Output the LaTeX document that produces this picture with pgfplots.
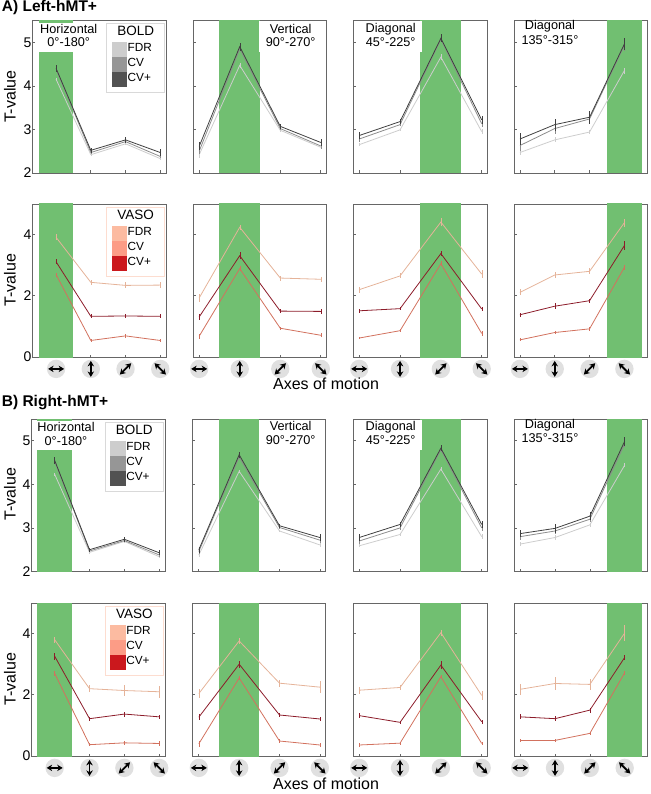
\documentclass[border=0pt]{standalone}
\usepackage{fontspec}
\setmainfont{Liberation Sans}
\usepackage{pgfplots}
\usepackage{pgfplotstable}
\pgfplotsset{compat=1.18}
\usetikzlibrary{arrows.meta,calc}

\definecolor{mygreen}{HTML}{71BF71}
\definecolor{spine}{HTML}{666666}
\definecolor{iconbg}{HTML}{E0E0E0}
% line colours
\definecolor{bolda}{HTML}{CDCDCD}
\definecolor{boldb}{HTML}{8C8C8C}
\definecolor{boldc}{HTML}{404040}
\definecolor{vasoa}{HTML}{E5B399}
\definecolor{vasob}{HTML}{D2715E}
\definecolor{vasoc}{HTML}{8C1C2A}
% legend patches
\definecolor{pboldb}{HTML}{969696}
\definecolor{pboldc}{HTML}{525252}
\definecolor{pvasoa}{HTML}{FCBBA1}
\definecolor{pvasob}{HTML}{FC9C86}
\definecolor{pvasoc}{HTML}{CB181D}

% columns: x, then value and error of FDR, CV, CV+
\pgfplotstableread{
x fdr fdre cv cve cvp cvpe
0 4.15 .03 4.38 .05 4.40 .08
1 2.42 .03 2.47 .03 2.52 .05
2 2.67 .03 2.72 .03 2.76 .07
3 2.33 .04 2.38 .04 2.47 .07
}\tLBa
\pgfplotstableread{
x fdr fdre cv cve cvp cvpe
0 2.42 .07 2.50 .07 2.61 .09
1 4.47 .05 4.85 .06 4.90 .09
2 2.98 .03 3.02 .03 3.07 .05
3 2.59 .05 2.62 .06 2.70 .07
}\tLBb
\pgfplotstableread{
x fdr fdre cv cve cvp cvpe
0 2.65 .03 2.78 .06 2.86 .08
1 2.99 .03 3.11 .04 3.18 .06
2 4.66 .06 5.07 .07 5.09 .09
3 2.95 .05 3.13 .08 3.22 .09
}\tLBc
\pgfplotstableread{
x fdr fdre cv cve cvp cvpe
0 2.47 .06 2.63 .13 2.78 .13
1 2.76 .06 3.02 .12 3.11 .14
2 2.94 .05 3.24 .12 3.28 .15
3 4.35 .07 4.93 .12 4.96 .13
}\tLBd
\pgfplotstableread{
x fdr fdre cv cve cvp cvpe
0 3.91 .10 2.69 .07 3.11 .08
1 2.44 .08 0.54 .05 1.33 .06
2 2.34 .10 0.69 .06 1.34 .06
3 2.35 .10 0.54 .05 1.33 .07
}\tLVa
\pgfplotstableread{
x fdr fdre cv cve cvp cvpe
0 1.93 .12 0.68 .08 1.31 .09
1 4.24 .08 2.89 .08 3.31 .11
2 2.58 .08 0.94 .05 1.50 .07
3 2.54 .08 0.71 .07 1.49 .07
}\tLVb
\pgfplotstableread{
x fdr fdre cv cve cvp cvpe
0 2.20 .10 0.62 .04 1.51 .06
1 2.65 .08 0.86 .04 1.58 .06
2 4.41 .13 3.05 .08 3.38 .08
3 2.71 .12 0.77 .07 1.57 .08
}\tLVc
\pgfplotstableread{
x fdr fdre cv cve cvp cvpe
0 2.11 .10 0.56 .05 1.38 .07
1 2.68 .10 0.80 .06 1.66 .09
2 2.80 .10 0.92 .06 1.84 .07
3 4.39 .13 2.93 .08 3.64 .14
}\tLVd
\pgfplotstableread{
x fdr fdre cv cve cvp cvpe
0 4.23 .03 4.53 .05 4.55 .08
1 2.44 .03 2.47 .03 2.50 .05
2 2.69 .03 2.71 .03 2.74 .06
3 2.34 .04 2.38 .05 2.43 .06
}\tRBa
\pgfplotstableread{
x fdr fdre cv cve cvp cvpe
0 2.38 .05 2.46 .06 2.50 .07
1 4.30 .04 4.63 .05 4.68 .07
2 2.93 .03 3.01 .03 3.05 .05
3 2.61 .05 2.72 .07 2.78 .07
}\tRBb
\pgfplotstableread{
x fdr fdre cv cve cvp cvpe
0 2.59 .03 2.70 .06 2.78 .07
1 2.85 .03 3.00 .05 3.08 .05
2 4.35 .04 4.80 .05 4.83 .07
3 2.80 .05 3.00 .08 3.08 .09
}\tRBc
\pgfplotstableread{
x fdr fdre cv cve cvp cvpe
0 2.63 .05 2.80 .08 2.87 .08
1 2.78 .05 2.93 .07 2.99 .10
2 3.07 .05 3.20 .07 3.27 .09
3 4.44 .05 4.93 .08 4.99 .10
}\tRBd
\pgfplotstableread{
x fdr fdre cv cve cvp cvpe
0 3.80 .10 2.70 .07 3.26 .12
1 2.20 .12 0.37 .05 1.22 .07
2 2.14 .18 0.43 .07 1.37 .08
3 2.10 .20 0.41 .07 1.28 .07
}\tRVa
\pgfplotstableread{
x fdr fdre cv cve cvp cvpe
0 2.04 .15 0.40 .09 1.27 .09
1 3.76 .10 2.55 .07 3.00 .11
2 2.38 .12 0.49 .06 1.34 .07
3 2.25 .19 0.36 .06 1.21 .08
}\tRVb
\pgfplotstableread{
x fdr fdre cv cve cvp cvpe
0 2.15 .12 0.36 .06 1.32 .07
1 2.24 .09 0.42 .05 1.10 .06
2 4.03 .10 2.59 .05 2.97 .12
3 1.98 .15 0.41 .06 1.12 .07
}\tRVc
\pgfplotstableread{
x fdr fdre cv cve cvp cvpe
0 2.18 .18 0.51 .06 1.28 .08
1 2.37 .20 0.51 .05 1.22 .08
2 2.34 .18 0.74 .06 1.50 .08
3 4.02 .25 2.72 .06 3.22 .09
}\tRVd

% one px of the reference is one pt here
\newcommand{\icon}[1]{\tikz{\fill[iconbg] (0,0) circle (9.2pt);
  \draw[{Stealth[length=5.5pt,width=6.5pt]}-{Stealth[length=5.5pt,width=6.5pt]},line width=1.8pt,black,rotate=#1] (-8pt,0)--(8pt,0);}}

\pgfplotsset{
  panel/.style={
    scale only axis, anchor=south west,
    axis line style={spine,line width=0.9pt},
    tick style={spine,line width=0.7pt},
    major tick length=2.5pt,
    tick pos=left, xtick={0,1,2,3},
    tick label style={font=\fontsize{14}{14}\selectfont,inner sep=0pt},
    /pgf/number format/assume math mode=true,
    yticklabel style={xshift=-1pt},
    xticklabel=\empty,
  },
  boldrow/.style={height=152.5pt,ymin=2,ymax=5.5,ytick={2,3,4,5}},
  vasorow/.style={height=153pt,ymin=0,ymax=5,ytick={0,2,4}},
  icons/.style={xticklabel=\relax,xticklabels={\icon{0},\icon{90},\icon{45},\icon{-45}},
    xticklabel style={yshift=-2.5pt}},
  nolab/.style={yticklabel=\empty},
  cola/.style={width=134pt,xmin=-0.68,xmax=3.18},
  colb/.style={width=133pt,xmin=-0.14,xmax=3.14},
  colc/.style={width=133.5pt,xmin=-0.14,xmax=3.13},
  cold/.style={width=133pt,xmin=-0.17,xmax=3.65},
}

% #1 axis options, #2 green from, #3 green to, #4 table, #5 palette
\newcommand{\panel}[5]{%
\begin{axis}[panel,#1]
  \addplot[fill=mygreen,draw=none] coordinates {(#2,-1) (#3,-1) (#3,9) (#2,9)};
  \addplot[#5a,line width=0.8pt,error bars/.cd,y dir=both,y explicit,error mark=none]
    table[x=x,y=fdr,y error=fdre] {#4};
  \addplot[#5b,line width=0.8pt,error bars/.cd,y dir=both,y explicit,error mark=none]
    table[x=x,y=cv,y error=cve] {#4};
  \addplot[#5c,line width=0.8pt,error bars/.cd,y dir=both,y explicit,error mark=none]
    table[x=x,y=cvp,y error=cvpe] {#4};
\end{axis}}

% text of a panel, centred on x, with the y of its two lines
\newcommand{\dirlabel}[5]{%
  \node[font=\fontsize{12.7}{13}\selectfont,anchor=mid] at (#1pt,-#2pt) {#4};
  \node[font=\fontsize{12.7}{13}\selectfont,anchor=mid] at (#1pt,-#3pt) {#5};}

% #1 x, #2 y, #3 border, #4 title, #5 first patch, #6 second, #7 third
\newcommand{\legbox}[7]{%
  \draw[#3,fill=white,line width=0.8pt] (#1pt,-#2pt) rectangle ++(58pt,-69.4pt);
  \node[font=\fontsize{13.5}{14}\selectfont,anchor=mid] at ($(#1pt,-#2pt)+(29pt,-9.5pt)$) {#4};
  \fill[#5] ($(#1pt,-#2pt)+(5pt,-18.5pt)$) rectangle ++(15.3pt,-15pt);
  \fill[#6] ($(#1pt,-#2pt)+(5pt,-33.5pt)$) rectangle ++(15.3pt,-15pt);
  \fill[#7] ($(#1pt,-#2pt)+(5pt,-48.5pt)$) rectangle ++(15.3pt,-15pt);
  \node[font=\fontsize{11.8}{12}\selectfont,anchor=mid west,inner sep=0pt] at ($(#1pt,-#2pt)+(20.8pt,-26pt)$) {FDR};
  \node[font=\fontsize{11.8}{12}\selectfont,anchor=mid west,inner sep=0pt] at ($(#1pt,-#2pt)+(20.8pt,-41pt)$) {CV};
  \node[font=\fontsize{11.8}{12}\selectfont,anchor=mid west,inner sep=0pt] at ($(#1pt,-#2pt)+(20.8pt,-56pt)$) {CV+};}

\newcommand{\tval}[1]{\node[font=\fontsize{16}{16}\selectfont,rotate=90,anchor=center] at (10pt,-#1pt) {T-value};}

\begin{document}
\begin{tikzpicture}
\useasboundingbox (0,0) rectangle (650pt,-794pt);

% A) left, BOLD
\panel{boldrow,cola,at={(32.5pt,-173pt)}}{-0.5}{0.5}{\tLBa}{bold}
\panel{boldrow,colb,nolab,at={(193.5pt,-173pt)}}{0.5}{1.5}{\tLBb}{bold}
\panel{boldrow,colc,nolab,at={(353.5pt,-173pt)}}{1.5}{2.5}{\tLBc}{bold}
\panel{boldrow,cold,nolab,at={(514pt,-173pt)}}{2.5}{3.5}{\tLBd}{bold}
% A) left, VASO
\panel{vasorow,cola,icons,at={(32.5pt,-357pt)}}{-0.5}{0.5}{\tLVa}{vaso}
\panel{vasorow,colb,icons,nolab,at={(193.5pt,-357pt)}}{0.5}{1.5}{\tLVb}{vaso}
\panel{vasorow,colc,icons,nolab,at={(353.5pt,-357pt)}}{1.5}{2.5}{\tLVc}{vaso}
\panel{vasorow,cold,icons,nolab,at={(514pt,-357pt)}}{2.5}{3.5}{\tLVd}{vaso}
% B) right, BOLD
\panel{boldrow,cola,xmin=-0.665,at={(31.5pt,-571.5pt)}}{-0.5}{0.5}{\tRBa}{bold}
\panel{boldrow,colb,xmin=-0.157,at={(192.5pt,-571.5pt)},nolab}{0.5}{1.5}{\tRBb}{bold}
\panel{boldrow,colc,nolab,at={(353.5pt,-571.5pt)}}{1.5}{2.5}{\tRBc}{bold}
\panel{boldrow,cold,nolab,at={(514.3pt,-571.5pt)}}{2.5}{3.5}{\tRBd}{bold}
% B) right, VASO
\panel{vasorow,cola,xmin=-0.665,icons,at={(31.5pt,-756pt)}}{-0.5}{0.5}{\tRVa}{vaso}
\panel{vasorow,colb,xmin=-0.157,icons,nolab,at={(192.5pt,-756pt)}}{0.5}{1.5}{\tRVb}{vaso}
\panel{vasorow,colc,icons,nolab,at={(353.5pt,-756pt)}}{1.5}{2.5}{\tRVc}{vaso}
\panel{vasorow,cold,icons,nolab,at={(514.3pt,-756pt)}}{2.5}{3.5}{\tRVd}{vaso}

% white boxes behind the direction labels
\fill[white] (38pt,-23pt) rectangle (75pt,-52pt);
\fill[white] (259pt,-21.5pt) rectangle (322pt,-52pt);
\fill[white] (380pt,-21.5pt) rectangle (421.7pt,-52pt);
\fill[white] (36pt,-420.7pt) rectangle (73.5pt,-450pt);
\fill[white] (259pt,-419.5pt) rectangle (322pt,-450pt);
\fill[white] (380pt,-419.5pt) rectangle (421.7pt,-450pt);

\dirlabel{68.7}{30.7}{44.3}{Horizontal}{0°-180°}
\dirlabel{290.7}{30.7}{44.3}{Vertical}{90°-270°}
\dirlabel{390.7}{30}{43.7}{Diagonal}{45°-225°}
\dirlabel{550}{27.3}{41.7}{Diagonal}{135°-315°}
\dirlabel{66}{428.5}{442.5}{Horizontal}{0°-180°}
\dirlabel{290.7}{428.3}{442.3}{Vertical}{90°-270°}
\dirlabel{390.7}{428.3}{442.3}{Diagonal}{45°-225°}
\dirlabel{550}{425.7}{440}{Diagonal}{135°-315°}

\legbox{106.7}{23.3}{black!15}{BOLD}{bolda}{pboldb}{pboldc}
\legbox{106.7}{207.3}{pvasoa!50}{VASO}{pvasoa}{pvasob}{pvasoc}
\legbox{105.3}{422.3}{black!15}{BOLD}{bolda}{pboldb}{pboldc}
\legbox{105.3}{606}{pvasoa!50}{VASO}{pvasoa}{pvasob}{pvasoc}

\tval{96.7}\tval{280}\tval{494}\tval{679}
\node[font=\fontsize{16}{16}\selectfont,anchor=mid] at (326pt,-387pt) {Axes of motion};
\node[font=\fontsize{16}{16}\selectfont,anchor=mid] at (326pt,-787pt) {Axes of motion};
\node[font=\fontsize{15.5}{16}\selectfont\bfseries,anchor=mid west,inner sep=0pt] at (1.7pt,-9pt) {A) Left-hMT+};
\node[font=\fontsize{15.5}{16}\selectfont\bfseries,anchor=mid west,inner sep=0pt] at (1.7pt,-404.3pt) {B) Right-hMT+};
\end{tikzpicture}
\end{document}
